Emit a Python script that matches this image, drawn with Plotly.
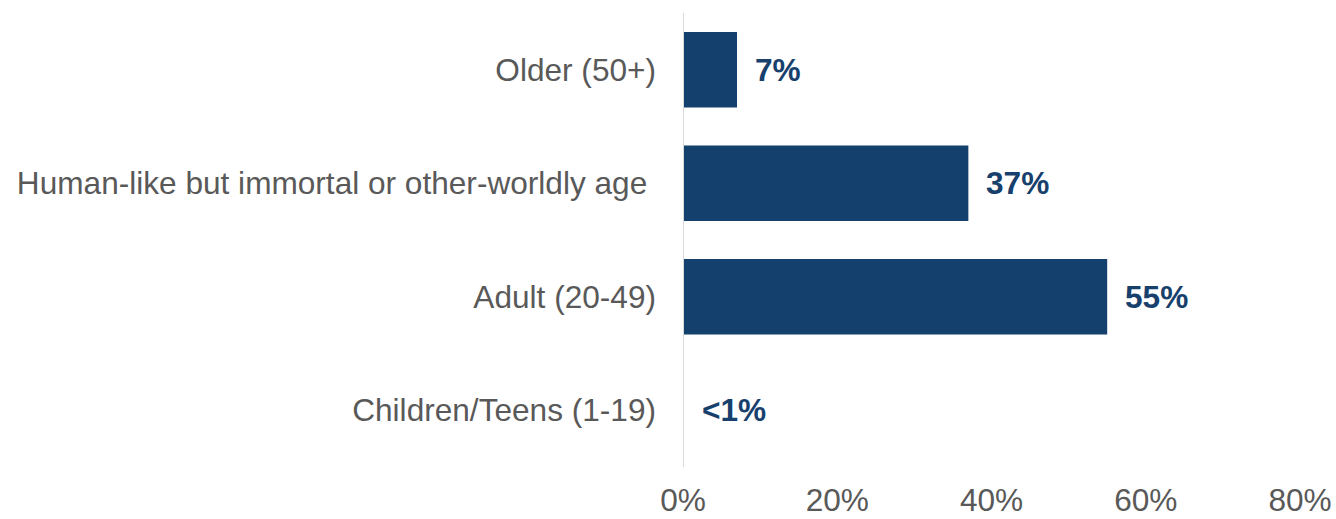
import plotly.graph_objects as go

# Age groups, listed bottom to top
categories = ["Children/Teens (1-19)", "Adult (20-49)",
              "Human-like but immortal or other-worldly age", "Older (50+)"]
values = [0.1, 55, 37, 7]
value_labels = ["<1%", "55%", "37%", "7%"]

x_ticks = [0, 20, 40, 60, 80]
x_tick_labels = ["0%", "20%", "40%", "60%", "80%"]

BAR = "#14406e"
LABEL = "#17406d"
GREY_TEXT = "#595959"
FONT = "Liberation Sans, Arial, sans-serif"
SIZE = 31.6

fig = go.Figure(go.Bar(
    y=categories, x=values, orientation="h",
    marker=dict(color=BAR, line=dict(width=0)),
    hoverinfo="skip",
))

for cat, val, lab in zip(categories, values, value_labels):
    fig.add_annotation(
        x=val, y=cat, text=f"<b>{lab}</b>", showarrow=False,
        xanchor="left", yanchor="middle", xshift=16,
        font=dict(family=FONT, size=SIZE, color=LABEL),
    )

# vertical baseline at 0%, drawn over the bars
fig.add_shape(type="line", xref="x", yref="paper", x0=0, x1=0, y0=0, y1=1,
              line=dict(color="#d9d9d9", width=2), layer="above")

# trailing space on the long label keeps its right edge where the source had it
tick_text = [c + "\u00a0" if c.startswith("Human") else c for c in categories]

fig.update_layout(
    width=1336, height=519,
    margin=dict(l=683, r=36, t=13, b=52),
    paper_bgcolor="white", plot_bgcolor="white",
    bargap=0.333,
    showlegend=False,
    font=dict(family=FONT, size=SIZE, color=GREY_TEXT),
    xaxis=dict(
        range=[0, 80], tickvals=x_ticks, ticktext=x_tick_labels,
        showgrid=False, zeroline=False, showline=False,
        ticks="", ticklabelstandoff=11, automargin=False,
        tickfont=dict(family=FONT, size=SIZE, color=GREY_TEXT),
    ),
    yaxis=dict(
        categoryorder="array", categoryarray=categories,
        tickvals=categories, ticktext=tick_text,
        showgrid=False, zeroline=False, showline=False,
        ticks="", ticklabelstandoff=26, automargin=False,
        tickfont=dict(family=FONT, size=SIZE, color=GREY_TEXT),
    ),
)

fig.write_html("out.html")
